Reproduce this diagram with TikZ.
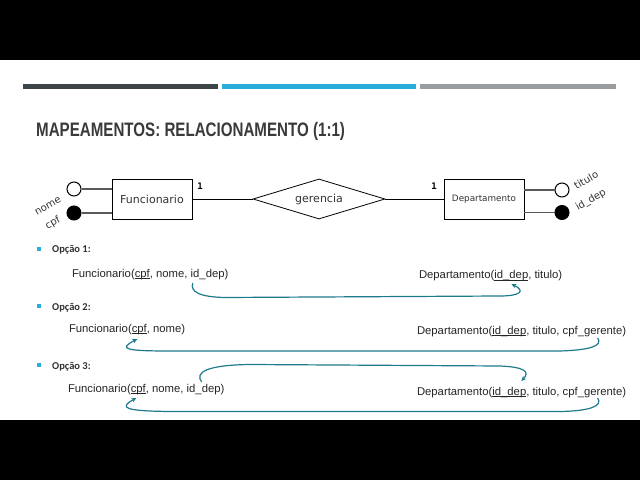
\documentclass[tikz,border=0pt]{standalone}
\usepackage{graphicx}
\usepackage{fontspec}
\setmainfont{Liberation Sans}
\newfontfamily\erfont{DejaVu Sans}
\newfontfamily\cardfont{DejaVu Sans Mono}
\newfontfamily\optfont{Carlito}
\usetikzlibrary{shapes.geometric,arrows.meta,calc}
\definecolor{bardark}{HTML}{3D4548}
\definecolor{barblue}{HTML}{29AEDB}
\definecolor{bargray}{HTML}{9A9D9F}
\definecolor{fkteal}{HTML}{1E7A8C}
\definecolor{titlegray}{HTML}{3A3A3A}
\newcommand{\keyul}[1]{\setbox0\hbox{#1}\rlap{\rule[-1.8pt]{\wd0}{0.6pt}}\box0}

\begin{document}
\begin{tikzpicture}[x=1pt,y=1pt,
  txt/.style={inner sep=0pt,outer sep=0pt,anchor=base west,text=black!85,font=\fontsize{11.3}{13}\selectfont},
  entity/.style={draw,line width=0.8pt,minimum width=80pt,minimum height=40pt,inner sep=0pt,text=black!80,font=\erfont\fontsize{11}{13}\selectfont},
  relation/.style={diamond,draw,aspect=3.3,minimum width=132pt,minimum height=40pt,inner sep=0pt,line width=0.8pt,text=black!80,font=\erfont\fontsize{11}{13}\selectfont},
  attr/.style={circle,draw,line width=1pt,minimum size=14pt,inner sep=0pt},
  attrlbl/.style={rotate=30,inner sep=0pt,text=black!80,font=\erfont\fontsize{10}{12}\selectfont},
  attrline/.style={draw=black!65,line width=1.3pt},
  card/.style={inner sep=0pt,font=\cardfont\bfseries\fontsize{9}{11}\selectfont},
  option/.style={anchor=base west,inner sep=0pt,text=black!80,font=\optfont\bfseries\fontsize{10.5}{12}\selectfont},
  bullet/.style={fill=barblue,minimum size=4pt,inner sep=0pt},
  fk/.style={draw=fkteal,line width=1.2pt,-{Stealth[length=5pt,width=4.5pt]}}]

\useasboundingbox (0,0) rectangle (640,480);
\fill[white] (0,60) rectangle (640,420);
\fill[black] (0,420) rectangle (640,480);
\fill[black] (0,0) rectangle (640,60);

\draw[line width=5pt,bardark] (23,393.5)--(218,393.5);
\draw[line width=5pt,barblue] (222,393.5)--(416,393.5);
\draw[line width=5pt,bargray] (420,393.5)--(616,393.5);

\node[anchor=base west,inner sep=0pt,text=titlegray,font=\bfseries\fontsize{19.5}{22}\selectfont] (title) at (36,343) {\scalebox{0.776}[1]{MAPEAMENTOS: RELACIONAMENTO (1:1)}};

\node[entity] (funcionario) at (152,281) {Funcionario};
\node[entity,font=\erfont\fontsize{8.8}{11}\selectfont] (departamento) at (484,281) {Departamento};
\node[relation] (gerencia) at (319,281) {gerencia};
\draw[line width=0.8pt] (funcionario.east)--(gerencia.west);
\draw[line width=0.8pt] (gerencia.east)--(departamento.west);
\node[card] (card1) at (200,294) {1};
\node[card] (card2) at (434,294) {1};

\node[attr] (nome) at (74,291) {};
\node[attr,fill=black] (cpf) at (74,267) {};
\node[attr] (titulo) at (562,290) {};
\node[attr,fill=black] (iddep) at (562,267.5) {};
\draw[attrline] (nome)--(funcionario.west |- nome);
\draw[attrline] (cpf)--(funcionario.west |- cpf);
\draw[attrline] (titulo)--(departamento.east |- titulo);
\draw[attrline] (iddep)--(departamento.east |- iddep);
\node[attrlbl] (lnome) at (48,274) {nome};
\node[attrlbl] (lcpf) at (53,257) {cpf};
\node[attrlbl] (ltitulo) at (586,300) {titulo};
\node[attrlbl] (liddep) at (591,280) {id\_dep};

\node[bullet] (b1) at (38.5,231) {};
\node[bullet] (b2) at (38.5,174) {};
\node[bullet] (b3) at (38.5,115) {};
\node[option] (op1) at (52,227) {Opção 1:};
\node[option] (op2) at (52,170) {Opção 2:};
\node[option] (op3) at (52,111) {Opção 3:};

\node[txt] (f1a) at (72,203) {Funcionario(\keyul{cpf}, \mbox{nome, }};
\node[txt] (f1b) at (f1a.base east) {id\_dep};
\node[txt] (f1c) at (f1b.base east) {)};
\node[txt] (d1a) at (419,201) {Departamento(};
\node[txt] (d1b) at (d1a.base east) {\keyul{id\_dep}};
\node[txt] (d1c) at (d1b.base east) {, titulo)};

\node[txt] (f2a) at (69,148) {Funcionario(};
\node[txt] (f2b) at (f2a.base east) {\keyul{cpf}};
\node[txt] (f2c) at (f2b.base east) {, nome)};
\node[txt] (d2a) at (417,146) {Departamento(\keyul{id\_dep}, \mbox{titulo, }};
\node[txt] (d2b) at (d2a.base east) {cpf\_gerente};
\node[txt] (d2c) at (d2b.base east) {)};

\node[txt] (f3a) at (68,88) {Funcionario(};
\node[txt] (f3b) at (f3a.base east) {\keyul{cpf}};
\node[txt] (f3c) at (f3b.base east) {, \mbox{nome, }};
\node[txt] (f3d) at (f3c.base east) {id\_dep};
\node[txt] (f3e) at (f3d.base east) {)};
\node[txt] (d3a) at (417,85) {Departamento(};
\node[txt] (d3b) at (d3a.base east) {\keyul{id\_dep}};
\node[txt] (d3c) at (d3b.base east) {, \mbox{titulo, }};
\node[txt] (d3d) at (d3c.base east) {cpf\_gerente};
\node[txt] (d3e) at (d3d.base east) {)};

\coordinate (s1) at ($(f1b.base west)+(2,-6)$);
\coordinate (e1) at ($(d1b.base)+(0,-5)$);
\coordinate (s2) at ($(d2b.base west)+(35,-4)$);
\coordinate (e2) at ($(f2b.base)+(-2,-7)$);
\coordinate (s3a) at ($(f3d.base west)+(15,10)$);
\coordinate (e3a) at ($(d3b.base east)+(-5,14)$);
\coordinate (s3b) at ($(d3d.base west)+(35,-3)$);
\coordinate (e3b) at ($(f3b.base)+(-2,-6)$);

\draw[fk] (s1) .. controls (190,188) and (200,183) .. (225,182.5) -- (500,184) .. controls (520,184) and (526,189) .. (e1);
\draw[fk] (s2) .. controls (603,134) and (590,130) .. (560,129) -- (170,129) .. controls (125,129) and (118,131) .. (e2);
\draw[fk] (s3a) .. controls (194,108) and (208,115) .. (250,115.5) -- (500,114) .. controls (525,113) and (530,108) .. (e3a);
\draw[fk] (s3b) .. controls (603,74) and (590,69) .. (560,68.5) -- (170,68.5) .. controls (125,69) and (118,72) .. (e3b);

\end{tikzpicture}
\end{document}
